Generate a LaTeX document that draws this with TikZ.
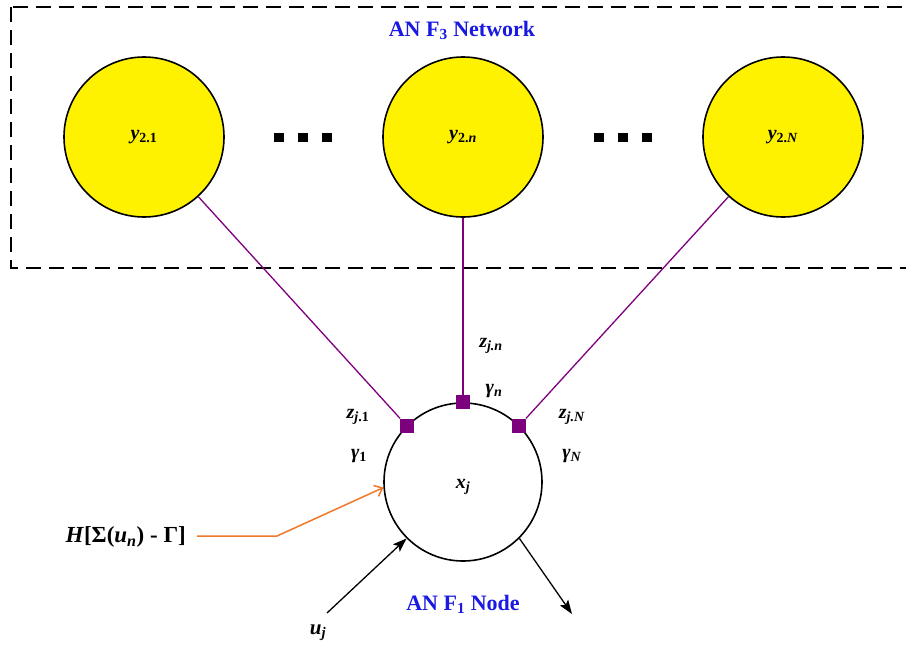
\documentclass[tikz,border=0pt]{standalone}
\usepackage{fontspec}
\setmainfont{Liberation Serif}
\usetikzlibrary{arrows.meta,positioning}
\definecolor{netblue}{RGB}{25,25,225}
\definecolor{linkpurple}{RGB}{125,0,125}
\definecolor{inhib}{RGB}{240,120,40}
\newcommand{\var}[2]{\textbf{\textit{#1}\textsubscript{#2}}}

\begin{document}
\begin{tikzpicture}[x=1pt, y=-1pt,
  unit/.style={circle, draw, line width=1.6pt, fill=yellow, minimum size=160pt, inner sep=0pt},
  cell/.style={circle, draw, line width=1.6pt, minimum size=158pt, inner sep=0pt},
  port/.style={rectangle, fill=linkpurple, minimum size=14pt, inner sep=0pt},
  dot/.style={rectangle, fill=black, minimum width=10pt, minimum height=9pt, inner sep=0pt},
  link/.style={linkpurple, line width=1.3pt},
  lbl/.style={font=\fontsize{20}{24}\selectfont},
  title/.style={font=\fontsize{22}{26}\selectfont\bfseries, text=netblue},
  arrow/.style={-{Stealth[length=14pt,width=10pt,inset=3pt]}, line width=1.3pt},
  inhibit/.style={-{Straight Barb[length=7pt,width=12pt]}, inhib, line width=1.5pt}
]
\useasboundingbox (0,0) rectangle (906,646);
% network frame
\draw[line width=2pt, dash pattern=on 15pt off 8pt] (11,7) rectangle (920,268);
\node[title] (nettitle) at (462,30) {AN F\textsubscript{3} Network};

\node[unit] (y21) at (144,137) {};
\node[unit] (y2n) at (463,137) {};
\node[unit] (y2N) at (783,137) {};
\node[lbl] at (y21) {\var{y}{2.1}};
\node[lbl] at (y2n) {\var{y}{2.\textit{n}}};
\node[lbl] at (y2N) {\var{y}{2.\textit{N}}};
\foreach \dx in {-24,0,24} {
  \node[dot] at (303+\dx,137) {};
  \node[dot] at (623+\dx,137) {};
}

% F1 node
\node[cell] (xj) at (463,482) {};
\node[lbl] at (463,487) {\var{x}{\textit{j}}};
\node[port] (p1) at (xj.135) {};
\node[port] (pn) at (xj.90) {};
\node[port] (pN) at (xj.45) {};

\draw[link] (y21) -- (p1);
\draw[link] (y2n) -- (pn);
\draw[link] (y2N) -- (pN);

\node[lbl] at (358,417) {\var{z}{\textit{j}.1}};
\node[lbl] at (359,456) {\var{γ}{1}};
\node[lbl] at (491,346) {\var{z}{\textit{j.n}}};
\node[lbl] at (494,391) {\var{γ}{\textit{n}}};
\node[lbl] at (572,417) {\var{z}{\textit{j.N}}};
\node[lbl] at (572,456) {\var{γ}{\textit{N}}};

% inputs and output
\node[lbl, font=\fontsize{23}{26}\selectfont, anchor=east, inner sep=2pt] (hlbl) at (188,537) {\textbf{\textit{H}[Σ(\textit{u}\textsubscript{\textit{n}}) - Γ]}};
\coordinate (hbend) at (277,536);
\draw[inhibit] (197,536) -- (hbend) -- (xj.184);

\coordinate (uin) at (327,613);
\node[lbl, font=\fontsize{21}{24}\selectfont] (ulbl) at (318,633) {\var{u}{\textit{j}}};
\draw[arrow] (uin) -- (xj.225);

\coordinate (xout) at (572,614);
\draw[arrow] (xj.-45) -- (xout);
\node[title] (nodetitle) at (463,604) {AN F\textsubscript{1} Node};
\end{tikzpicture}
\end{document}
